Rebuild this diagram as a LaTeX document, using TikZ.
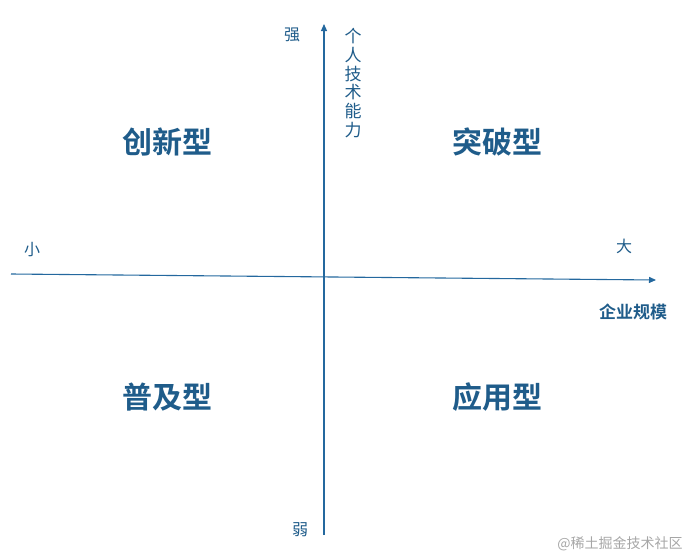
\documentclass[tikz,border=0pt]{standalone}
\usepackage{fontspec}
\newfontfamily\cjk{Noto Sans CJK SC}
\newfontfamily\cjkbold{Noto Sans CJK SC Bold}
\usetikzlibrary{arrows.meta}
\definecolor{axisblue}{RGB}{36,104,158}
\definecolor{textblue}{RGB}{31,92,138}
\begin{document}
\begin{tikzpicture}[x=1pt, y=-1pt, thick,
	axis/.style = {draw=axisblue, line width=1.1pt, -{Triangle[length=7pt, width=6pt]}},
	quad/.style = {text=textblue, font=\cjkbold\fontsize{30}{30}\selectfont},
	tick/.style = {text=textblue, font=\cjk\fontsize{16}{16}\selectfont},
	title/.style = {text=textblue, font=\cjkbold\fontsize{17}{17}\selectfont}]
		\useasboundingbox (0,0) rectangle (690,557);
		\coordinate (l) at (11,274);
		\coordinate (r) at (656,280);
		\coordinate (b) at (324,535);
		\coordinate (t) at (324,24);
		
		\draw[axis] (l)--(r);
		\draw[axis] (b)--(t);
		
		\node[quad] (1) at (167,142) {创新型};
		\node[quad] (2) at (497,142) {突破型};
		\node[quad] (3) at (167,397) {普及型};
		\node[quad] (4) at (497,397) {应用型};
		
		\node[tick] (5) at (292,35) {强};
		\node[tick] (6) at (300,530) {弱};
		\node[tick] (7) at (32,250) {小};
		\node[tick] (8) at (624,246) {大};
		
		\node[title] (9) at (633,312) {企业规模};
		\node[title, align=center, font=\cjk\fontsize{17}{18.7}\selectfont] (10) at (353,83) {个\\人\\技\\术\\能\\力};
		
		\node[text=black!35, font=\cjk\fontsize{14}{14}\selectfont] (11) at (620,544) {@稀土掘金技术社区};
		
	\end{tikzpicture}
\end{document}
